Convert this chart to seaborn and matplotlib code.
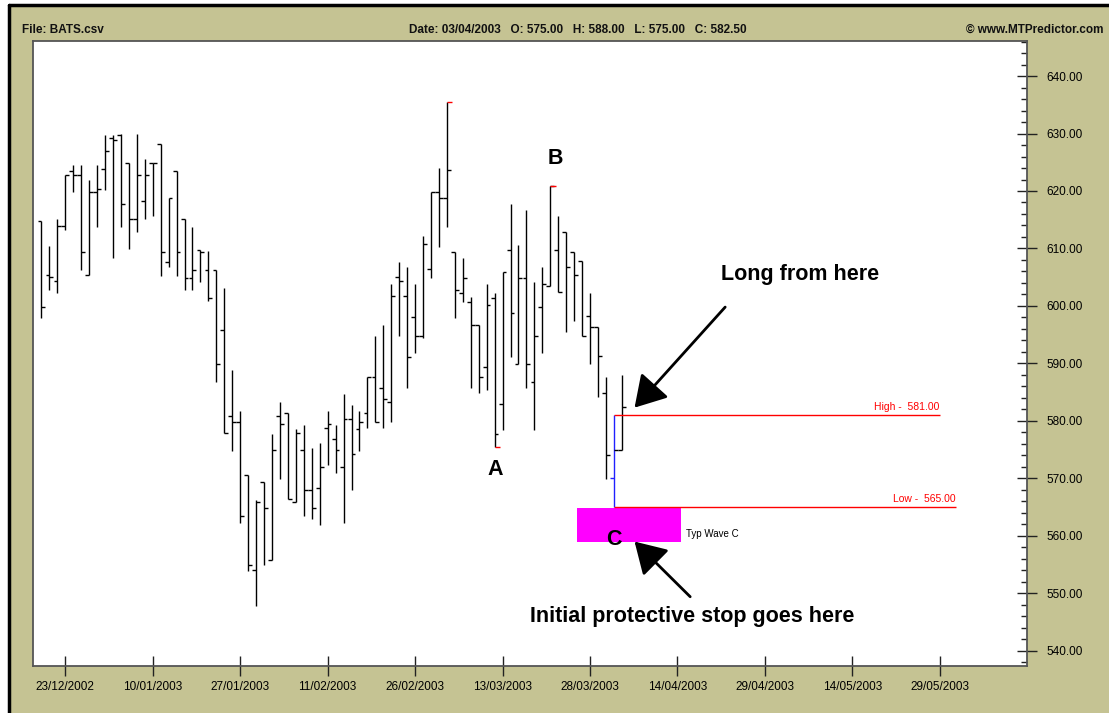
import matplotlib
matplotlib.use('Agg')
import matplotlib.pyplot as plt
import seaborn as sns
import pandas as pd
from matplotlib.patches import Rectangle
from matplotlib.lines import Line2D

# daily OHLC bars, index 0 = 23/12/2002 (trading days)
opens = [614.8, 605.3, 604.3, 613.9, 623.4, 622.8, 605.3, 619.9, 623.8, 629.2,
         629.7, 624.8, 615.2, 618.3, 624.8, 628.2, 607.7, 623.4, 615.2, 604.9,
         609.7, 606.3, 606.3, 595.8, 580.9, 579.8, 570.5, 554.0, 569.3, 555.8,
         580.8, 581.3, 565.8, 575.0, 568.0, 568.3, 578.8, 576.9, 571.9, 580.3,
         578.5, 581.3, 587.7, 585.8, 583.2, 605.0, 601.7, 598.0, 594.8, 606.4,
         619.9, 618.7, 609.4, 602.3, 600.7, 596.7, 589.3, 601.4, 582.9, 609.7,
         589.9, 604.9, 586.8, 599.8, 603.4, 609.7, 612.9, 609.3, 607.9, 598.3,
         596.4, 584.9, 570.0, 575.0]
highs = [614.8, 610.5, 615.1, 622.8, 624.6, 624.6, 622.0, 624.6, 629.7, 629.7,
         629.9, 624.8, 630.0, 625.5, 624.8, 628.2, 618.7, 623.4, 615.2, 613.7,
         609.7, 609.6, 606.3, 603.2, 588.9, 581.8, 570.5, 566.3, 569.3, 577.7,
         583.2, 581.3, 578.6, 579.3, 575.2, 576.2, 581.8, 579.3, 584.6, 582.7,
         581.8, 587.7, 594.7, 596.7, 603.8, 607.7, 606.7, 603.8, 612.2, 619.9,
         624.0, 635.4, 609.4, 608.3, 601.6, 596.7, 603.8, 602.2, 605.9, 617.7,
         610.6, 616.7, 604.2, 606.7, 620.9, 615.6, 612.9, 609.3, 607.9, 602.2,
         596.4, 587.6, 581.0, 588.0]
lows = [597.9, 602.7, 602.3, 613.2, 619.9, 606.3, 605.3, 613.8, 620.2, 608.4,
        613.8, 609.9, 612.9, 615.1, 615.7, 605.2, 606.8, 605.2, 602.7, 602.7,
        604.2, 600.8, 586.7, 577.9, 574.8, 562.2, 553.9, 547.8, 555.0, 555.8,
        569.9, 566.4, 565.8, 563.4, 562.9, 561.9, 572.3, 570.9, 562.2, 568.0,
        574.8, 578.7, 579.8, 578.7, 579.8, 594.7, 585.8, 591.8, 594.4, 604.8,
        610.3, 613.8, 597.9, 600.7, 585.7, 584.8, 585.3, 575.4, 578.4, 591.2,
        589.9, 585.7, 578.4, 591.8, 603.4, 602.4, 595.4, 597.3, 594.8, 589.9,
        584.2, 569.9, 565.0, 575.0]
closes = [599.8, 605.0, 613.9, 622.8, 622.8, 609.4, 619.9, 620.3, 626.9, 628.8,
          617.7, 615.2, 622.8, 622.8, 624.8, 609.4, 618.7, 609.4, 604.9, 606.3,
          609.4, 601.3, 589.9, 577.9, 579.8, 563.5, 555.0, 565.8, 564.8, 575.0,
          579.4, 566.4, 577.9, 568.0, 564.8, 571.9, 579.4, 575.0, 580.4, 574.2,
          579.8, 587.7, 579.8, 583.8, 601.7, 604.4, 591.2, 594.8, 610.7, 619.9,
          618.7, 623.6, 602.8, 604.9, 596.7, 587.7, 600.2, 577.8, 605.9, 598.8,
          604.9, 589.9, 594.8, 603.9, 620.9, 602.4, 606.8, 605.4, 594.8, 596.4,
          591.3, 574.0, 575.0, 582.5]
first_index = -3

tick_dates = ['23/12/2002', '10/01/2003', '27/01/2003', '11/02/2003', '26/02/2003',
              '13/03/2003', '28/03/2003', '14/04/2003', '29/04/2003', '14/05/2003',
              '29/05/2003']
tick_step = 11

# annotation levels
wave_high = 581.0
wave_low = 565.0
box_top, box_bottom = 564.8, 559.0
marker_high_bars = [51, 64]
marker_low_bars = [57]
wave_c_bar = 72

df = pd.DataFrame({'open': opens, 'high': highs, 'low': lows, 'close': closes})
df['x'] = range(first_index, first_index + len(df))

sns.set_style('white')
plt.rcParams['font.family'] = ['Liberation Sans', 'DejaVu Sans']
plt.rcParams['text.color'] = 'black'
plt.rcParams['xtick.color'] = 'black'
plt.rcParams['ytick.color'] = 'black'

khaki = '#C5C393'
W, H = 1109, 713
fig = plt.figure(figsize=(W / 100, H / 100), dpi=100)
fig.patch.set_facecolor('white')
fig.patches.append(Rectangle((9 / W, 0), 1, 1 - 5 / H, transform=fig.transFigure,
                             facecolor=khaki, edgecolor='none', zorder=-10))
fig.lines.append(Line2D([9 / W, 9 / W], [0, 1 - 5 / H], transform=fig.transFigure,
                        color='black', lw=2.5))
fig.lines.append(Line2D([9 / W, 1], [1 - 5 / H, 1 - 5 / H], transform=fig.transFigure,
                        color='black', lw=2.5))

# header
hdr = dict(fontsize=8.5, fontweight='bold', va='center', color='#111111')
fig.text(22 / W, 1 - 30 / H, 'File: BATS.csv', ha='left', **hdr)
fig.text(578 / W, 1 - 30 / H,
         'Date: 03/04/2003   O: 575.00   H: 588.00   L: 575.00   C: 582.50',
         ha='center', **hdr)
fig.text(1103 / W, 1 - 30 / H, '\u00a9 www.MTPredictor.com', ha='right', **hdr)

ax = fig.add_axes([33 / W, 1 - 665.7 / H, (1027.3 - 33) / W, (665.7 - 41) / H])
ax.set_facecolor('white')

tw = 0.48
norm = df[df.index != wave_c_bar]
ax.vlines(norm['x'], norm['low'], norm['high'], color='black', lw=1.0)
ax.hlines(norm['open'], norm['x'] - tw, norm['x'], color='black', lw=1.0)
ax.hlines(norm['close'], norm['x'], norm['x'] + tw, color='black', lw=1.0)

c = df.loc[wave_c_bar]
ax.vlines(c['x'], c['low'], c['high'], color='#2020ff', lw=1.0)
ax.hlines(c['open'], c['x'] - tw, c['x'], color='#2020ff', lw=1.0)
ax.hlines(c['close'], c['x'], c['x'] + tw, color='black', lw=1.0)

for i in marker_high_bars:
    ax.hlines(df.loc[i, 'high'], df.loc[i, 'x'], df.loc[i, 'x'] + tw * 1.4, color='red', lw=1.0)
for i in marker_low_bars:
    ax.hlines(df.loc[i, 'low'], df.loc[i, 'x'], df.loc[i, 'x'] + tw * 1.4, color='red', lw=1.0)

# high / low lines
ax.hlines(wave_high, c['x'], 110, color='red', lw=1.0)
ax.hlines(wave_low, c['x'], 112, color='red', lw=1.0)
ax.text(110, wave_high + 0.6, 'High -  581.00', color='red', fontsize=7.5, ha='right', va='bottom')
ax.text(112, wave_low + 0.6, 'Low -  565.00', color='red', fontsize=7.5, ha='right', va='bottom')

ax.add_patch(Rectangle((64.4, box_bottom), 77.5 - 64.4, box_top - box_bottom,
                       facecolor='#FF00FF', edgecolor='none', zorder=1))
ax.text(78.1, 560.3, 'Typ Wave C', fontsize=7, ha='left', va='center')

big = dict(fontsize=15.5, fontweight='bold', ha='center', va='center', color='black')
ax.text(54.05, 571.6, 'A', **big)
ax.text(61.6, 625.7, 'B', **big)
ax.text(69.0, 559.4, 'C', zorder=3, **big)
ax.text(92.4, 605.4, 'Long from here', **big)
ax.text(78.8, 545.9, 'Initial protective stop goes here', **big)

arrow = dict(arrowstyle='-|>,head_length=1.0,head_width=0.6', color='black',
             lw=2.0, mutation_scale=19, shrinkA=0, shrinkB=0)
ax.annotate('', xy=(71.6, 582.3), xytext=(83.0, 599.8), arrowprops=arrow)
ax.annotate('', xy=(71.6, 559.0), xytext=(78.6, 549.4), arrowprops=arrow)

ax.set_xlim(-4.06, 121.0)
ax.set_ylim(537.4, 646.1)

ax.set_xticks(range(0, tick_step * len(tick_dates), tick_step))
ax.set_xticklabels(tick_dates)
ax.set_yticks(range(540, 641, 10))
ax.set_yticklabels([f'{v:.2f}' for v in range(540, 641, 10)])
ax.set_yticks(range(538, 647, 2), minor=True)
ax.yaxis.tick_right()
ax.tick_params(axis='x', which='major', direction='inout', length=14, width=1.0,
               color='#222222', labelsize=8.5, pad=4, bottom=True, labelcolor='black')
ax.tick_params(axis='y', which='major', direction='inout', length=14, width=1.0,
               color='#222222', labelsize=8.5, pad=7, right=True, left=False,
               labelcolor='black')
ax.tick_params(axis='y', which='minor', direction='in', length=4, width=1.0,
               color='#222222', right=True, left=False)
for s in ax.spines.values():
    s.set_color('#555555')
    s.set_linewidth(1.3)
ax.grid(False)

fig.savefig('out.png', dpi=100, facecolor=fig.get_facecolor())
